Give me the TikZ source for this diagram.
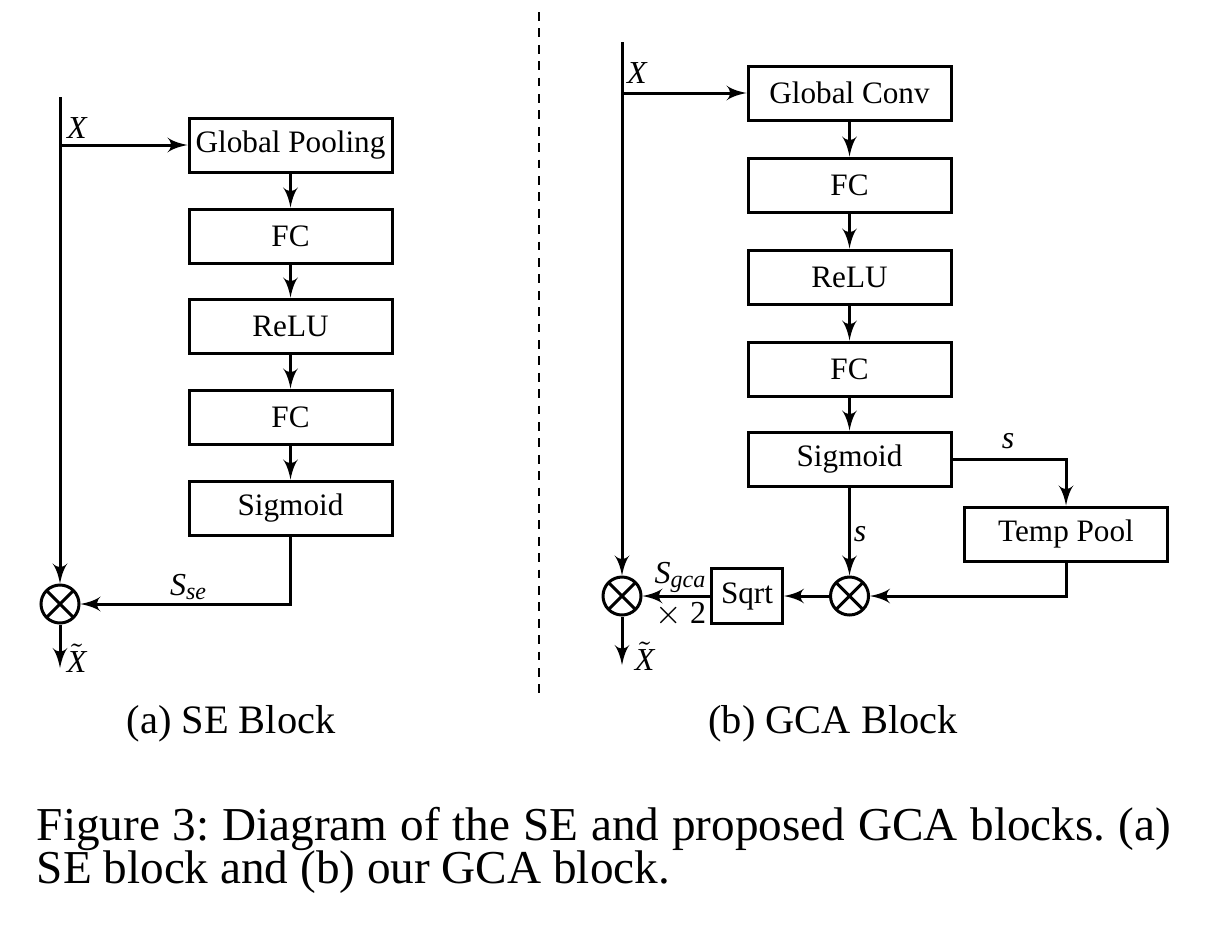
\documentclass[tikz,border=0pt]{standalone}
\usepackage{fontspec}
\setmainfont{Liberation Serif}
\usetikzlibrary{arrows}
\frenchspacing
\tikzset{
    block/.style={rectangle,draw,line width=0.75pt,minimum width=50.75pt,minimum height=13.5pt,inner sep=1pt,font=\fontsize{7.8}{9}\selectfont},
    smallblock/.style={block,minimum width=17.75pt,minimum height=13.7pt},
    mult/.style={circle,draw,line width=0.75pt,minimum size=9.5pt,inner sep=0pt,
        path picture={\draw[line width=0.75pt] (path picture bounding box.north west) -- (path picture bounding box.south east)
            (path picture bounding box.north east) -- (path picture bounding box.south west);}},
    flow/.style={->,> = latex',line width=0.75pt},
    lbl/.style={inner sep=0pt,font=\fontsize{8}{9}\selectfont\itshape},
    subcaption/.style={inner sep=0pt,font=\fontsize{10.1}{12}\selectfont},
    figcaption/.style={inner sep=0pt,font=\fontsize{11.8}{14}\selectfont},
    divider/.style={line width=0.5pt,dash pattern=on 2.2pt off 1.9pt},
}
\newcommand{\tildex}{$\tilde{\mbox{\itshape X}}$}
\begin{document}
\begin{tikzpicture}[x=0.25pt,y=-0.25pt]
    \useasboundingbox (0,0) rectangle (1206,942);
    % (a) SE block
    \coordinate (xinA) at (60,97);
    \coordinate (xbrA) at (60,145);
    \coordinate (xoutA) at (60,668);
    \node[block] (gpA) at (290.5,145) {Global Pooling};
    \node[block] (fc1A) at (290.5,236) {FC};
    \node[block] (reA) at (290.5,326) {ReLU};
    \node[block] (fc2A) at (290.5,417) {FC};
    \node[block] (sgA) at (290.5,508) {Sigmoid};
    \node[mult] (mA) at (60,604) {};
    \node[lbl] (xA) at (77,128) {X};
    \node[lbl] (sseA) at (189,587) {S\textsubscript{se}};
    \node[lbl,anchor=west] (xtA) at (66,658) {\tildex};
    \draw[flow] (xinA) -- (mA);
    \draw[flow] (xbrA) -- (gpA.west);
    \draw[flow] (gpA) -- (fc1A);
    \draw[flow] (fc1A) -- (reA);
    \draw[flow] (reA) -- (fc2A);
    \draw[flow] (fc2A) -- (sgA);
    \draw[flow] (sgA.south) |- (mA);
    \draw[flow] (mA) -- (xoutA);
    % divider
    \coordinate (dtop) at (539,12);
    \coordinate (dbot) at (539,698);
    \draw[divider] (dtop) -- (dbot);
    % (b) GCA block
    \coordinate (xinB) at (622,42);
    \coordinate (xbrB) at (622,93);
    \coordinate (xoutB) at (622,665);
    \node[block] (gcB) at (849.5,93) {Global Conv};
    \node[block] (fc1B) at (849.5,185) {FC};
    \node[block] (reB) at (849.5,277) {ReLU};
    \node[block] (fc2B) at (849.5,369) {FC};
    \node[block] (sgB) at (849.5,459) {Sigmoid};
    \node[block] (tpB) at (1066,534) {Temp Pool};
    \node[mult] (mB) at (849.5,596) {};
    \node[smallblock] (sqB) at (747,596) {Sqrt};
    \node[mult] (oB) at (622,596) {};
    \node[lbl] (xB) at (637,73) {X};
    \node[lbl] (s1B) at (1008,441) {s};
    \node[lbl] (s2B) at (860,534) {s};
    \node[lbl] (sgcaB) at (681,577) {S\textsubscript{gca}};
    \node[lbl] (twoB) at (681,615) {\upshape$\times$ 2};
    \node[lbl,anchor=west] (xtB) at (634,656) {\tildex};
    \draw[flow] (xinB) -- (oB);
    \draw[flow] (xbrB) -- (gcB.west);
    \draw[flow] (gcB) -- (fc1B);
    \draw[flow] (fc1B) -- (reB);
    \draw[flow] (reB) -- (fc2B);
    \draw[flow] (fc2B) -- (sgB);
    \draw[flow] (sgB.east) -| (tpB.north);
    \draw[flow] (sgB) -- (mB);
    \draw[flow] (tpB.south) |- (mB);
    \draw[flow] (mB) -- (sqB);
    \draw[flow] (sqB) -- (oB);
    \draw[flow] (oB) -- (xoutB);
    % captions
    \node[subcaption] (capA) at (231,724) {(a) SE Block};
    \node[subcaption] (capB) at (833,724) {(b) GCA Block};
    \node[figcaption,anchor=base west] (figA) at (36,840) {\makebox[283.5pt][s]{Figure 3: Diagram of the SE and proposed GCA blocks. (a)}};
    \node[figcaption,anchor=base west] (figB) at (36,883) {SE block and (b) our GCA block.};
\end{tikzpicture}
\end{document}
